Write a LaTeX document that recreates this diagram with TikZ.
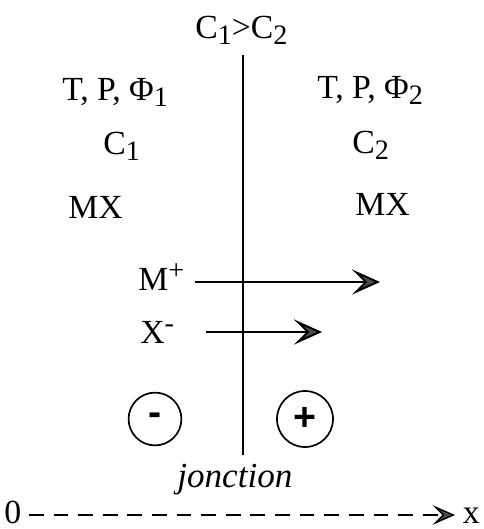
\documentclass[tikz,border=0pt]{standalone}
\usepackage{fontspec}
\setmainfont{Liberation Serif}
\setsansfont{Liberation Sans}
\usetikzlibrary{arrows.meta}
\newcommand{\ind}[1]{\raisebox{-0.45ex}{\fontsize{20}{20}\selectfont #1}}
\newcommand{\expo}[1]{\raisebox{0.7ex}{\fontsize{20}{20}\selectfont #1}}

\begin{document}
\begin{tikzpicture}[x=0.025cm, y=-0.025cm,
    lbl/.style={anchor=base west, inner sep=0pt, font=\fontsize{24}{26}\selectfont},
    wall/.style={line width=1.4pt},
    flux/.style={line width=1.4pt, -{Stealth[length=20pt, width=18pt, inset=9pt, fill=black!70]}},
    charge/.style={draw, circle, line width=1.2pt, inner sep=0pt, font=\sffamily\bfseries\fontsize{28}{28}\selectfont},
]
    \useasboundingbox (0,0) rectangle (483,529);

    \node[lbl] (cond) at (195,38) {C\ind{1}>C\ind{2}};
    \coordinate (jtop) at (243,55);
    \coordinate (jbot) at (243,455);
    \draw[wall] (jtop) -- (jbot);

    \node[lbl] (tp1) at (62,100) {T, P, Φ\ind{1}};
    \node[lbl] (c1) at (103,154) {C\ind{1}};
    \node[lbl] (mx1) at (68,218) {MX};

    \node[lbl] (tp2) at (317,98) {T, P, Φ\ind{2}};
    \node[lbl] (c2) at (352,153) {C\ind{2}};
    \node[lbl] (mx2) at (355,215) {MX};

    \node[lbl] (mplus) at (138,290) {M\expo{+}};
    \coordinate (m0) at (195,282);
    \coordinate (m1) at (380,282);
    \draw[flux] (m0) -- (m1);

    \node[lbl] (xminus) at (140,343) {X\expo{-}};
    \coordinate (x0) at (206,332);
    \coordinate (x1) at (322,332);
    \draw[flux] (x0) -- (x1);

    \node[charge, minimum size=1.32cm] (neg) at (155,419) {-};
    \node[charge, minimum size=1.4cm] (pos) at (305,419) {+};

    \node[lbl, font=\fontsize{25}{27}\selectfont\itshape] (jn) at (177,487) {jonction};

    \node[lbl] (orig) at (4,523) {0};
    \node[lbl, anchor=base east] (xax) at (480,523) {x};
    \coordinate (a0) at (29,515);
    \coordinate (a1) at (455,515);
    \draw[line width=1pt, dash pattern=on 10.5pt off 7pt,
        -{Stealth[length=16pt, width=14pt, inset=7pt, fill=black!70]}] (a0) -- (a1);
\end{tikzpicture}
\end{document}
